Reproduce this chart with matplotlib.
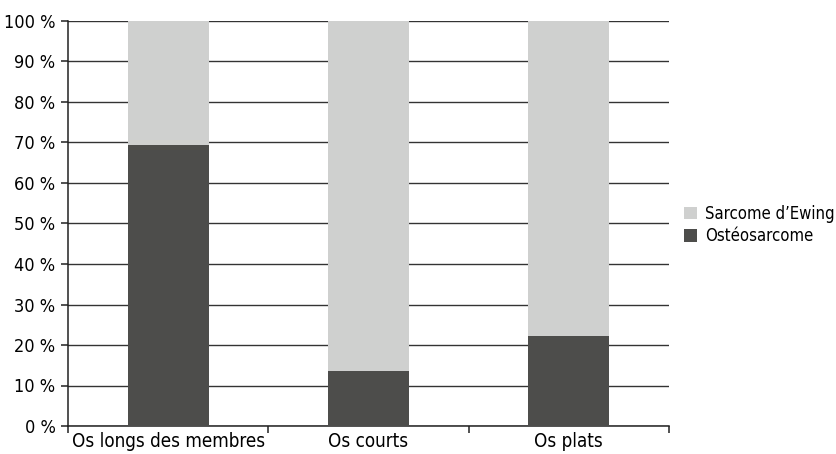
import matplotlib
matplotlib.use("Agg")
import matplotlib.pyplot as plt
from matplotlib.ticker import FixedLocator, NullFormatter
import numpy as np

categories = ["Os longs des membres", "Os courts", "Os plats"]
osteosarcome = [69.5, 13.6, 22.3]
ewing = [30.5, 86.4, 77.7]
y_ticks = [0, 10, 20, 30, 40, 50, 60, 70, 80, 90, 100]
y_labels = [f"{v} %" for v in y_ticks]

dark = "#4d4d4b"
light = "#cfd0cf"

plt.rcParams["font.family"] = ["DejaVu Sans"]
plt.rcParams["font.stretch"] = "condensed"

fig = plt.figure(figsize=(8.37, 4.54), dpi=100)
ax = fig.add_axes([68 / 837, 28 / 454, (669 - 68) / 837, (426 - 21) / 454])

x = np.arange(len(categories))
w = 0.405
ax.bar(x, osteosarcome, w, color=dark, label="Ostéosarcome", zorder=3)
ax.bar(x, ewing, w, bottom=osteosarcome, color=light, label="Sarcome d\u2019Ewing", zorder=3)

ax.set_xlim(-0.5, len(categories) - 0.5)
ax.set_ylim(0, 100)
ax.set_yticks(y_ticks)
ax.set_yticklabels(y_labels, fontsize=13)
ax.yaxis.grid(True, color="#333333", linewidth=1.0, zorder=0)
ax.set_axisbelow(True)

ax.set_xticks(x)
ax.set_xticklabels(categories, fontsize=13.5)
ax.tick_params(axis="x", length=0, pad=4)
ax.xaxis.set_minor_locator(FixedLocator(np.arange(-0.5, len(categories), 1.0)))
ax.xaxis.set_minor_formatter(NullFormatter())
ax.tick_params(axis="x", which="minor", length=5, width=1.1, color="#222222", direction="out")
ax.tick_params(axis="y", length=5, width=1.1, color="#222222", direction="out", pad=4)

for s in ("top", "right"):
    ax.spines[s].set_visible(False)
for s in ("left", "bottom"):
    ax.spines[s].set_color("#222222")
    ax.spines[s].set_linewidth(1.1)

handles, labels = ax.get_legend_handles_labels()
fig.legend(handles[::-1], labels[::-1], loc="center left", bbox_to_anchor=(677 / 837, 1 - 225 / 454),
           frameon=False, fontsize=12, handlelength=0.8, handleheight=0.8, handletextpad=0.5,
           labelspacing=0.25, borderaxespad=0)

fig.savefig("out.png", dpi=100)
